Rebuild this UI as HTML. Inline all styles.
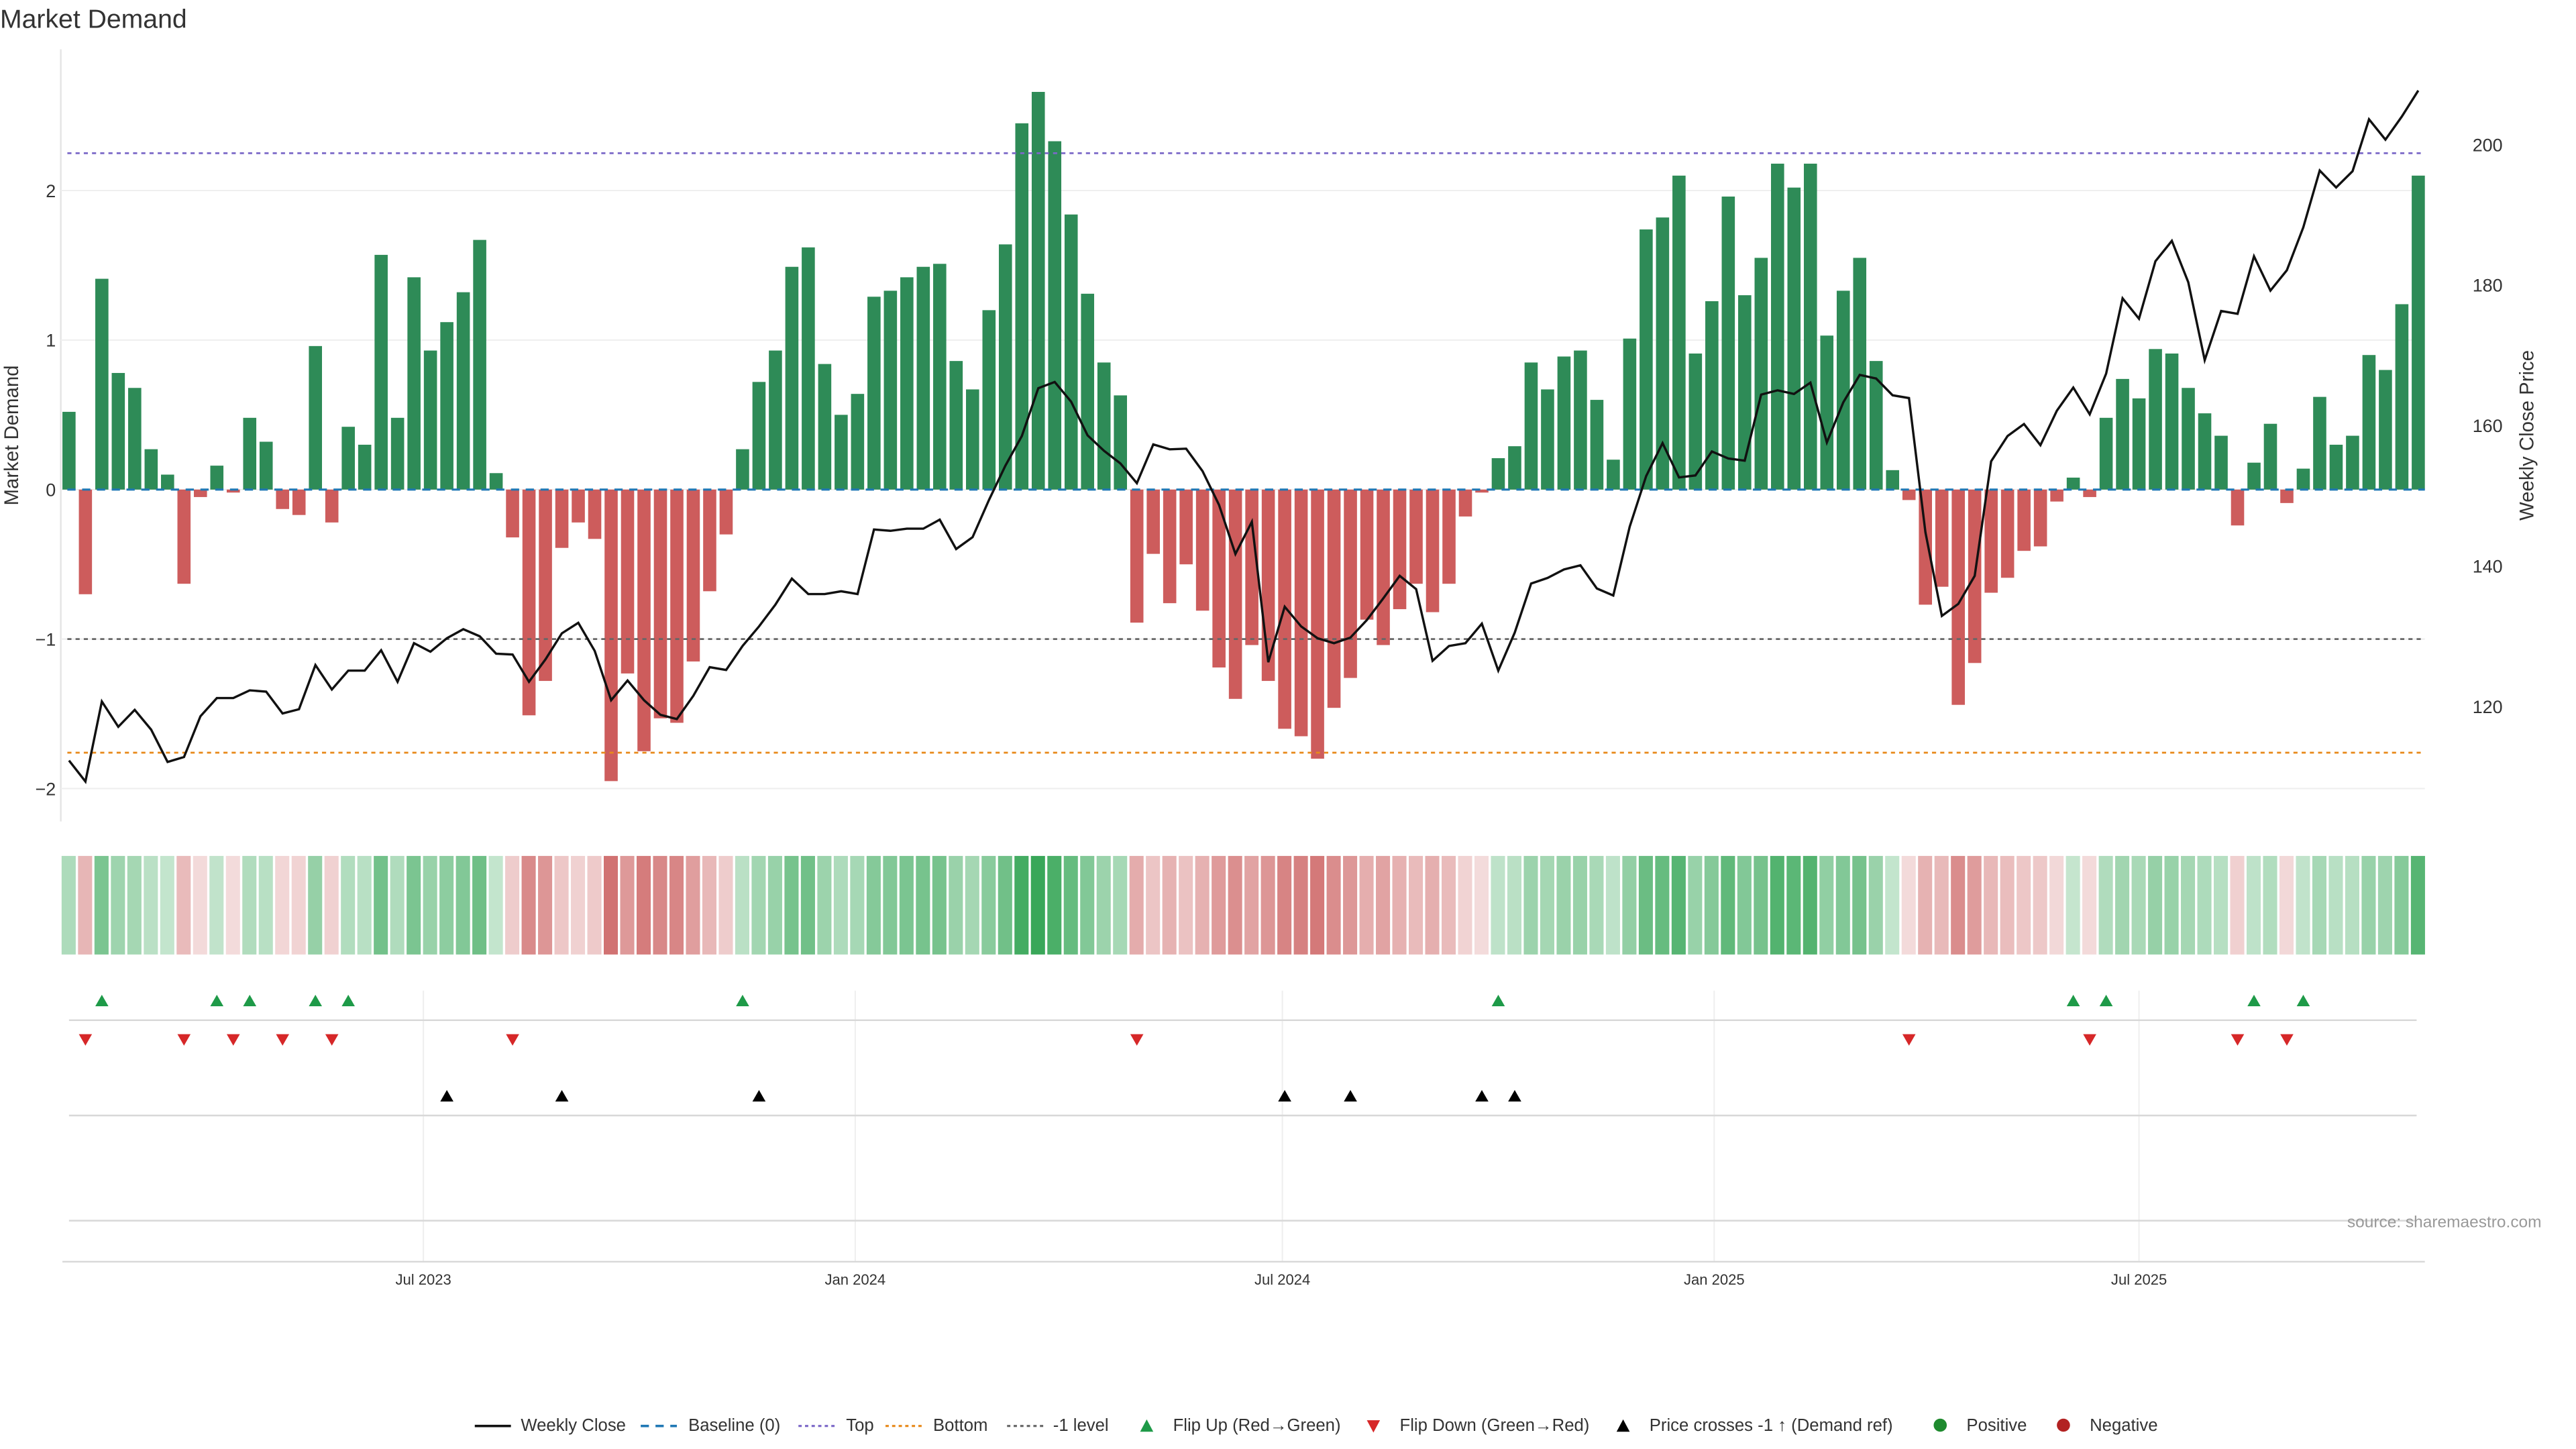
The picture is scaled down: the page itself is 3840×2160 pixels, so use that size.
<!DOCTYPE html>
<html><head><meta charset="utf-8"><style>
html,body{margin:0;padding:0;background:#fff;}
svg{display:block;font-family:"Liberation Sans","DejaVu Sans",sans-serif;}
</style></head><body>
<svg id="chart" width="3840" height="2160" viewBox="0 0 1568 882" xmlns="http://www.w3.org/2000/svg"></svg>
<script>
const demand = [0.52,-0.70,1.41,0.78,0.68,0.27,0.10,-0.63,-0.05,0.16,-0.02,0.48,0.32,-0.13,-0.17,0.96,-0.22,0.42,0.30,1.57,0.48,1.42,0.93,1.12,1.32,1.67,0.11,-0.32,-1.51,-1.28,-0.39,-0.22,-0.33,-1.95,-1.23,-1.75,-1.53,-1.56,-1.15,-0.68,-0.30,0.27,0.72,0.93,1.49,1.62,0.84,0.50,0.64,1.29,1.33,1.42,1.49,1.51,0.86,0.67,1.20,1.64,2.45,2.66,2.33,1.84,1.31,0.85,0.63,-0.89,-0.43,-0.76,-0.50,-0.81,-1.19,-1.40,-1.04,-1.28,-1.60,-1.65,-1.80,-1.46,-1.26,-0.87,-1.04,-0.80,-0.63,-0.82,-0.63,-0.18,-0.02,0.21,0.29,0.85,0.67,0.89,0.93,0.60,0.20,1.01,1.74,1.82,2.10,0.91,1.26,1.96,1.30,1.55,2.18,2.02,2.18,1.03,1.33,1.55,0.86,0.13,-0.07,-0.77,-0.65,-1.44,-1.16,-0.69,-0.59,-0.41,-0.38,-0.08,0.08,-0.05,0.48,0.74,0.61,0.94,0.91,0.68,0.51,0.36,-0.24,0.18,0.44,-0.09,0.14,0.62,0.30,0.36,0.90,0.80,1.24,2.10];
const price = [112.3,109.3,120.7,117.1,119.5,116.7,112.1,112.8,118.6,121.2,121.2,122.3,122.1,119.0,119.6,125.9,122.4,125.1,125.1,128.0,123.5,129.0,127.8,129.7,131.0,130.0,127.5,127.4,123.5,126.7,130.4,131.9,127.9,120.9,123.7,120.9,118.8,118.2,121.5,125.6,125.2,128.6,131.4,134.5,138.2,136.0,136.0,136.4,136.0,145.2,145.0,145.3,145.3,146.6,142.4,144.1,149.4,154.3,158.5,165.3,166.2,163.4,158.6,156.4,154.6,151.8,157.3,156.6,156.7,153.5,148.7,141.7,146.3,126.3,134.2,131.4,129.7,129.0,129.8,132.3,135.4,138.6,136.7,126.5,128.6,129.0,131.8,125.1,130.5,137.5,138.3,139.5,140.1,136.8,135.8,145.6,152.8,157.5,152.6,152.9,156.3,155.3,155.0,164.4,165.0,164.5,166.1,157.6,163.3,167.2,166.7,164.3,163.9,144.8,132.9,134.6,138.6,154.9,158.5,160.2,157.2,162.1,165.4,161.6,167.4,178.1,175.2,183.4,186.3,180.4,169.3,176.3,175.9,184.1,179.2,182.1,188.2,196.3,193.9,196.2,203.6,200.7,204.0,207.7];
const leftTicks = [2,1,0,-1,-2];
const leftTickLabels = ["2","1","0","\u22121","\u22122"];
const rightTicks = [200,180,160,140,120];
const dateTickLabels = ["Jul 2023","Jan 2024","Jul 2024","Jan 2025","Jul 2025"];
const dateTicks = ["2023-07-01","2024-01-01","2024-07-01","2025-01-01","2025-07-01"];
const startDate = "2023-01-31";
const topLevel = 2.25, bottomLevel = -1.76, minusLevel = -1;

const NS="http://www.w3.org/2000/svg";
const svg=document.getElementById('chart');
function el(tag,attrs,parent){const e=document.createElementNS(NS,tag);for(const k in attrs)e.setAttribute(k,attrs[k]);(parent||svg).appendChild(e);return e;}
const X0=42, STEP=10, PL=37, PR=1476;
function xi(i){return X0+STEP*i;}
function xd(s){const d=(new Date(s)-new Date(startDate))/864e5/7;return X0+STEP*d;}
function yL(d){return 298-91*d;}
function yR(p){return 88+(200-p)*4.275;}

let t=el('text',{x:0,y:17,'font-size':16,fill:'#333'});t.textContent='Market Demand';



let ax=el('line',{x1:PL,x2:PL,y1:30,y2:500,stroke:'#e5e5e5','stroke-width':1});


leftTicks.forEach((v,k)=>{
  const g=el('line',{x1:PL,x2:PR,y1:yL(v),y2:yL(v),stroke:'#eeeeee','stroke-width':0.8});
  
  
  const tx=el('text',{x:34,y:yL(v)+4,'font-size':11,fill:'#333','text-anchor':'end'});tx.textContent=leftTickLabels[k];
  
  
});
let yt=el('text',{x:11,y:265,'font-size':12,fill:'#333','text-anchor':'middle',transform:'rotate(-90 11 265)'});yt.textContent='Market Demand';


rightTicks.forEach(v=>{
  const tx=el('text',{x:1505,y:yR(v)+4,'font-size':11,fill:'#333'});tx.textContent=String(v);
  
  
});
let rt=el('text',{x:1542,y:265,'font-size':12,fill:'#333','text-anchor':'middle',transform:'rotate(-90 1542 265)'});rt.textContent='Weekly Close Price';



demand.forEach((v,i)=>{
  const y=Math.min(yL(0),yL(v)),h=Math.abs(yL(v)-yL(0));
  const b=el('rect',{x:xi(i)-4,y:y,width:8,height:Math.max(h,0.5),fill:v>=0?'#2e8b57':'#cd5c5c'});
  
  
});
function hline(y,col,dash,name,w){const l=el('line',{x1:PL+4,x2:PR,y1:y,y2:y,stroke:col,'stroke-width':w||1.1,'stroke-dasharray':dash});
  
  }
hline(yL(0),'#1f77b4','5 4','baseline-line',1.3);
hline(yL(topLevel),'#7b68c8','2.5 2.5','top-line');
hline(yL(bottomLevel),'#e8891a','2.5 2.5','bottom-line');
hline(yL(minusLevel),'#666','2.5 2.5','minus-one-line');

let pts=price.map((p,i)=>xi(i)+','+yR(p).toFixed(1)).join(' ');
let pl=el('polyline',{points:pts,fill:'none',stroke:'#111','stroke-width':1.4,'stroke-linejoin':'miter'});



demand.forEach((v,i)=>{
  let fill,op;
  if(v>=0){fill='rgb(40,160,75)';op=0.25+0.68*Math.min(v/2.7,1);}else{fill='rgb(200,85,85)';op=0.2+0.65*Math.min(-v/2,1);}
  const c=el('rect',{x:xi(i)-4.5,y:521,width:8.6,height:60,fill:fill,'fill-opacity':op.toFixed(2)});
  
  
});

dateTicks.forEach((d,k)=>{
  const x=xd(d);
  const g=el('line',{x1:x,x2:x,y1:603,y2:768,stroke:'#eeeeee','stroke-width':0.8});
  
  
  const tx=el('text',{x:x,y:782,'font-size':9,fill:'#333','text-anchor':'middle'});tx.textContent=dateTickLabels[k];
  
  
});
[621,679,743].forEach(y=>{
  const l=el('line',{x1:42,x2:1471,y1:y,y2:y,stroke:'#d8d8d8','stroke-width':1});
  
  
});
let bx=el('line',{x1:38,x2:PR,y1:768,y2:768,stroke:'#d8d8d8','stroke-width':1});



function tri(x,y,up,col,name){
  const p=up?`${x-4},${y+3.5} ${x+4},${y+3.5} ${x},${y-3.5}`:`${x-4},${y-3.5} ${x+4},${y-3.5} ${x},${y+3.5}`;
  const m=el('polygon',{points:p,fill:col});
  
  
}
const crossPrice=200-(yL(minusLevel)-88)/4.275;
demand.forEach((v,i)=>{
  if(i===0)return;
  const pv=demand[i-1];
  if(pv<0&&v>=0)tri(xi(i),609,true,'#1e9a48','flip-up-marker');
  if(pv>=0&&v<0)tri(xi(i),633,false,'#d62728','flip-down-marker');
  if(price[i-1]<crossPrice&&price[i]>=crossPrice)tri(xi(i),667,true,'#000','price-cross-marker');
});

let src=el('text',{x:1547,y:747,'font-size':10,fill:'#999','text-anchor':'end'});src.textContent='source: sharemaestro.com';



const lg=el('g',{});


function ltext(x,s){const tx=el('text',{x:x,y:871,'font-size':10.5,fill:'#333'},lg);tx.textContent=s;
  
  }
function lline(x1,col,dash,w){const l=el('line',{x1:x1,x2:x1+22,y1:868,y2:868,stroke:col,'stroke-width':w,'stroke-dasharray':dash},lg);
  
  }
lline(289,'#111','none',1.5);ltext(317,'Weekly Close');
lline(390,'#1f77b4','5 4',1.5);ltext(419,'Baseline (0)');
lline(486,'#7b68c8','2 2',1.3);ltext(515,'Top');
lline(539,'#e8891a','2 2',1.3);ltext(568,'Bottom');
lline(613,'#666','2 2',1.3);ltext(641,'-1 level');
let m1=el('polygon',{points:'694,871.5 702,871.5 698,864',fill:'#1e9a48'},lg);


ltext(714,'Flip Up (Red\u2192Green)');
let m2=el('polygon',{points:'832,864.5 840,864.5 836,872',fill:'#d62728'},lg);


ltext(852,'Flip Down (Green\u2192Red)');
let m3=el('polygon',{points:'984,871.5 992,871.5 988,864',fill:'#000'},lg);


ltext(1004,'Price crosses -1 \u2191 (Demand ref)');
let c1=el('circle',{cx:1181,cy:867.5,r:4,fill:'#1e8a2e'},lg);


ltext(1197,'Positive');
let c2=el('circle',{cx:1256,cy:867.5,r:4,fill:'#b22222'},lg);


ltext(1272,'Negative');
</script>
</body></html>
